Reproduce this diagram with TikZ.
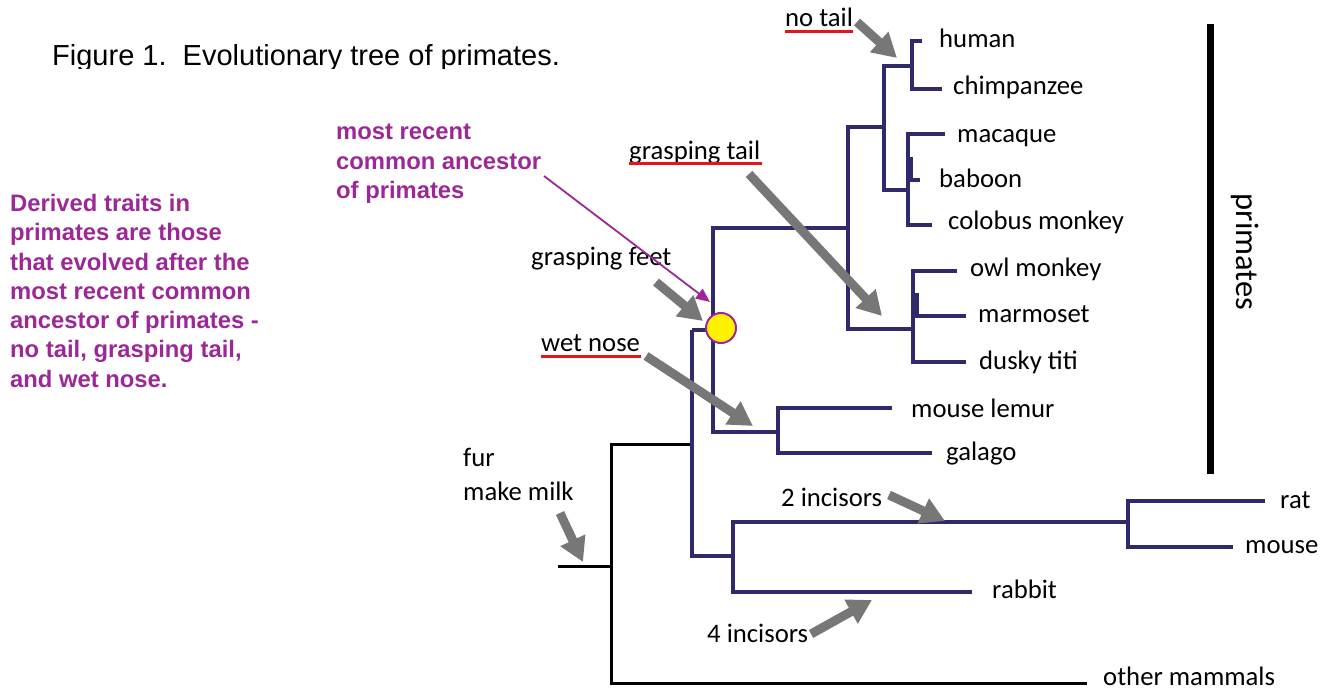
\documentclass[tikz,border=0pt]{standalone}
\usepackage{fontspec}
\setmainfont{Carlito}
\newfontfamily\arialfont{Liberation Sans}
\usetikzlibrary{arrows.meta}
\definecolor{navy}{HTML}{2E2A6B}
\definecolor{traitpurple}{HTML}{9B2896}
\definecolor{arrowgray}{HTML}{777777}
\definecolor{ulred}{HTML}{E3141B}
\definecolor{ancyellow}{HTML}{FFF200}
\begin{document}
\begin{tikzpicture}[x=1pt,y=-1pt,
  branch/.style={draw=navy,line width=3.2pt},
  rootline/.style={draw=black,line width=3pt},
  taxon/.style={anchor=base west,inner sep=0pt,font=\fontsize{26.7}{30}\selectfont},
  traitarrow/.style={draw=arrowgray,line width=9pt,-{Triangle[width=26pt,length=24pt]}},
  underl/.style={draw=ulred,line width=3pt},
  note/.style={anchor=north west,inner sep=0pt,align=left,text=traitpurple,font=\arialfont\bfseries\fontsize{23.8}{29.3}\selectfont}
]
\useasboundingbox (0,0) rectangle (1329,692);

% title (clipped at the bottom as in the figure)
\begin{scope}
\clip (0,0) rectangle (700,69);
\node[anchor=base west,inner sep=0pt,font=\arialfont\fontsize{29}{32}\selectfont] (title) at (52,66) {Figure 1.\ \ Evolutionary tree of primates.};
\end{scope}

% purple notes
\node[note] (derived) at (10,194) {Derived traits in\\primates are those\\that evolved after the\\most recent common\\ancestor of primates -\\no tail, grasping tail,\\and wet nose.};
\node[note] (mrca) at (336,124) {most recent\\common ancestor\\of primates};

% root (black)
\draw[rootline] (558,566) -- (611,566);
\draw[rootline] (692,444) -- (611,444) -- (611,683) -- (1087,683);

% tree (navy)
\draw[branch] (692,330) -- (713,330);
\draw[branch] (692,443) -- (692,330);
\draw[branch] (692,443) -- (692,556) -- (733,556);
\draw[branch] (848,228) -- (713,228) -- (713,432) -- (778,432);
\draw[branch] (884,127) -- (848,127) -- (848,329) -- (913,329);
\draw[branch] (912,66) -- (884,66) -- (884,190) -- (908,190);
\draw[branch] (922,41) -- (912,41) -- (912,89) -- (942,89);
\draw[branch] (945,134) -- (908,134) -- (908,225) -- (932,225);
\draw[branch] (908,180) -- (920,180);
\draw[navy,line width=6pt] (910,157) -- (910,180);
\draw[branch] (957,271) -- (913,271) -- (913,362) -- (966,362);
\draw[branch] (913,316) -- (966,316);
\draw[navy,line width=6pt] (916,293) -- (916,316);
\draw[branch] (892,408) -- (778,408) -- (778,453) -- (932,453);
\draw[branch] (1128,522) -- (733,522) -- (733,592) -- (972,592);
\draw[branch] (1265,501) -- (1128,501) -- (1128,547) -- (1233,547);

% ancestor
\node[circle,fill=ancyellow,draw=traitpurple,line width=2pt,minimum size=30pt,inner sep=0pt] (anc) at (721,328) {};

% taxa
\node[taxon] (human) at (939,48) {human};
\node[taxon] (chimp) at (953,95) {chimpanzee};
\node[taxon] (macaque) at (957,143) {macaque};
\node[taxon] (baboon) at (939,188) {baboon};
\node[taxon] (colobus) at (948,230) {colobus monkey};
\node[taxon] (owl) at (970,277) {owl monkey};
\node[taxon] (marmoset) at (978,323) {marmoset};
\node[taxon] (titi) at (979,369) {dusky titi};
\node[taxon] (lemur) at (911,417) {mouse lemur};
\node[taxon] (galago) at (946,460) {galago};
\node[taxon] (rat) at (1280,508) {rat};
\node[taxon] (mouse) at (1245,553) {mouse};
\node[taxon] (rabbit) at (992,598) {rabbit};
\node[taxon] (other) at (1103,685) {other mammals};

% trait labels
\node[taxon] (notail) at (785,27) {no tail};
\node[taxon] (grtail) at (629,160) {grasping tail};
\node[taxon] (grfeet) at (531,266) {grasping feet};
\node[taxon] (wetnose) at (541,351) {wet nose};
\node[taxon] (fur) at (463,466) {fur};
\node[taxon] (milk) at (463,500) {make milk};
\node[taxon] (inc2) at (781,506) {2 incisors};
\node[taxon] (inc4) at (707,642) {4 incisors};

\draw[underl] (785,32) -- (853,32);
\draw[underl] (629,164) -- (762,164);
\draw[underl] (541,356) -- (641,356);

% primates bar
\draw[line width=7pt] (1210,24) -- (1210,474);
\node[rotate=-90,inner sep=0pt,font=\fontsize{32.5}{36}\selectfont] (primates) at (1245,252) {primates};

% arrows
\coordinate (notailT) at (857,22);  \coordinate (notailH) at (897,58);
\coordinate (grtailT) at (749,174); \coordinate (grtailH) at (882,316);
\coordinate (grfeetT) at (656,282); \coordinate (grfeetH) at (703,321);
\coordinate (wetT) at (646,356);    \coordinate (wetH) at (753,426);
\coordinate (inc2T) at (889,495);   \coordinate (inc2H) at (945,521);
\coordinate (inc4T) at (811,634);   \coordinate (inc4H) at (872,600);
\coordinate (furT) at (560,513);    \coordinate (furH) at (583,562);
\draw[traitarrow] (notailT) -- (notailH);
\draw[traitarrow] (grtailT) -- (grtailH);
\draw[traitarrow] (grfeetT) -- (grfeetH);
\draw[traitarrow] (wetT) -- (wetH);
\draw[traitarrow] (inc2T) -- (inc2H);
\draw[traitarrow] (inc4T) -- (inc4H);
\draw[traitarrow] (furT) -- (furH);

\coordinate (mrcaT) at (544,176); \coordinate (mrcaH) at (710,302);
\draw[traitpurple,line width=1.8pt,-{Triangle[width=12pt,length=14pt]}] (mrcaT) -- (mrcaH);
\end{tikzpicture}
\end{document}
